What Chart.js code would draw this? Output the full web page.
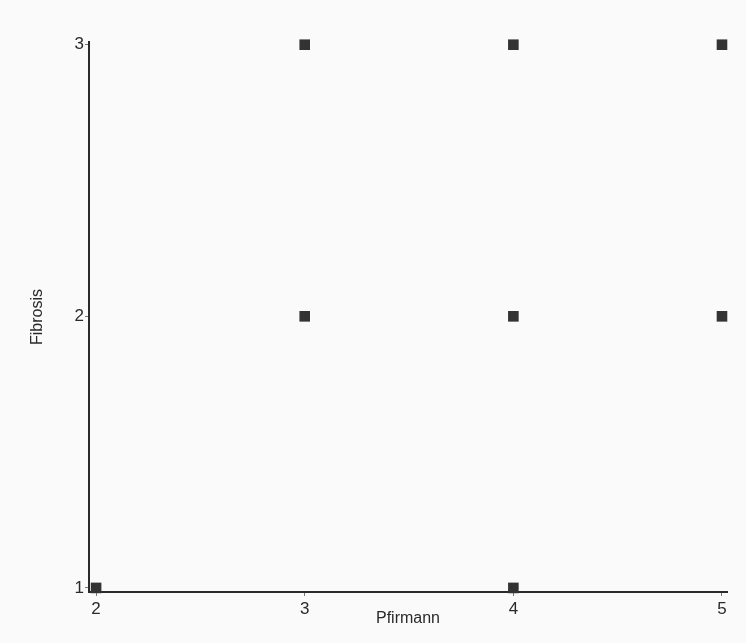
<!DOCTYPE html>
<html>
<head>
<meta charset="utf-8">
<script src="https://cdn.jsdelivr.net/npm/chart.js@4/dist/chart.umd.min.js"></script>
<style>
  html, body { margin: 0; padding: 0; background: #fafafa; }
  #wrap { width: 746px; height: 643px; }
</style>
</head>
<body>
<div id="wrap"><canvas id="scatter" width="746" height="643"></canvas></div>
<script>
// Pfirmann grade vs fibrosis grade
const pfirmann = [2, 4, 3, 4, 5, 3, 4, 5];
const fibrosis = [1, 1, 2, 2, 2, 3, 3, 3];
const xTicks = [2, 3, 4, 5];
const yTicks = [1, 2, 3];

const points = pfirmann.map((x, i) => ({ x: x, y: fibrosis[i] }));
const ink = '#2a2a2a';
const font = { family: 'Liberation Sans, Arial, sans-serif', size: 17 };
const titleFont = { family: 'Liberation Sans, Arial, sans-serif', size: 16 };

new Chart(document.getElementById('scatter'), {
  type: 'scatter',
  data: {
    datasets: [{
      data: points,
      clip: false,
      pointStyle: 'rect',
      pointRadius: 7.5,
      pointHoverRadius: 7.5,
      backgroundColor: '#333333',
      borderColor: '#333333',
      borderWidth: 0
    }]
  },
  options: {
    responsive: false,
    animation: false,
    layout: { padding: { top: 42, right: 19, left: 0, bottom: 0 } },
    plugins: { legend: { display: false }, tooltip: { enabled: false } },
    scales: {
      x: {
        type: 'linear',
        min: 1.966,
        max: 5.024,
        afterBuildTicks: s => { s.ticks = xTicks.map(v => ({ value: v })); },
        afterFit: s => { s.height = 51; },
        border: { display: true, color: ink, width: 2 },
        grid: { drawOnChartArea: false, drawTicks: true, tickLength: 4, color: '#777' },
        ticks: { color: ink, font: font, padding: 3 },
        title: { display: true, text: 'Pfirmann', color: ink, font: titleFont, padding: { top: 0, bottom: 15 } }
      },
      y: {
        type: 'linear',
        min: 0.985,
        max: 3.01,
        afterBuildTicks: s => { s.ticks = yTicks.map(v => ({ value: v })); },
        afterFit: s => { s.width = 89; },
        border: { display: true, color: ink, width: 2 },
        grid: { drawOnChartArea: false, drawTicks: true, tickLength: 4, color: '#777' },
        ticks: { color: ink, font: font, padding: 1 },
        title: { display: true, text: 'Fibrosis', color: ink, font: titleFont, padding: { top: 28, bottom: 0 } }
      }
    }
  }
});
</script>
</body>
</html>
